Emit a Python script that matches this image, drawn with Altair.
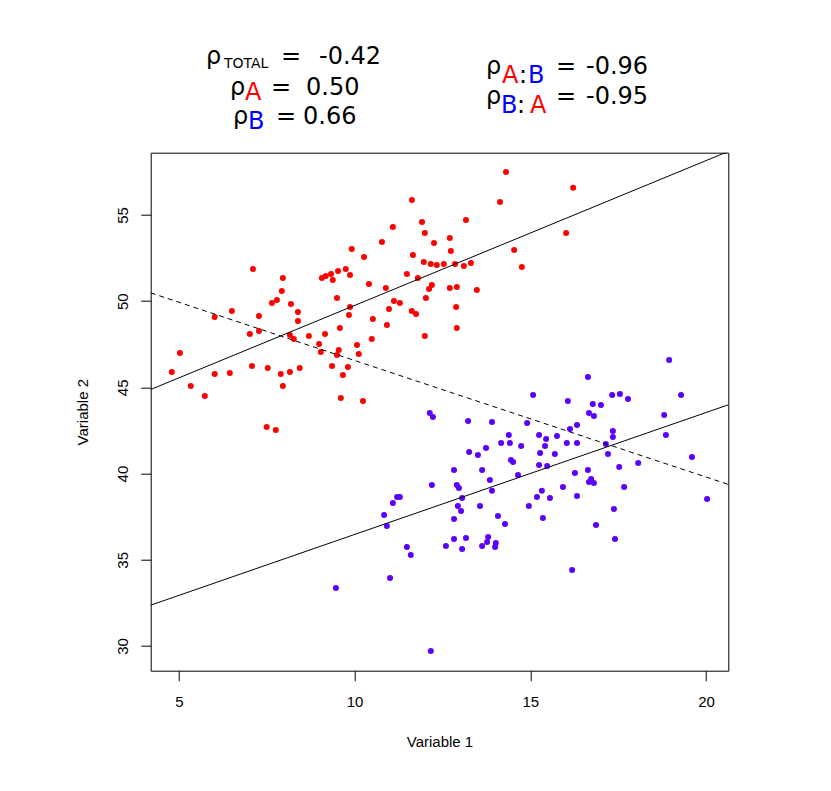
import altair as alt
import pandas as pd

# ---- data ----
red_x = [14.31, 16.22, 11.63, 14.14, 13.17, 11.92, 11.09, 12.00, 16.02, 10.78,
         12.26, 12.71, 9.92, 12.74, 14.54, 10.27, 11.66, 11.97, 12.17, 12.34,
         12.54, 12.86, 13.11, 13.31, 14.76, 9.75, 9.53, 9.33, 9.38, 9.87,
         11.49, 11.80, 10.41, 10.89, 12.20, 12.12, 12.71, 12.91, 13.48, 9.50,
         11.12, 12.03, 7.11, 7.96, 7.93, 7.79, 9.07, 9.18, 7.65, 8.19,
         6.51, 6.02, 7.28, 8.39, 8.39, 7.02, 7.28, 8.16, 8.27, 8.70,
         9.16, 9.87, 9.84, 9.58, 8.99, 9.04, 9.55, 9.50, 5.03, 4.80,
         6.02, 6.45, 7.08, 7.53, 7.90, 8.16, 8.44, 9.36, 9.67, 9.81,
         5.34, 5.74, 7.96, 9.61, 7.50, 7.76, 11.29, 10.98, 10.52, 11.63,
         11.75, 12.89, 12.91, 10.92, 12.00, 10.49, 10.07, 10.12, 10.24]
red_y = [57.49, 56.57, 55.87, 55.75, 54.71, 54.59, 54.30, 53.96, 53.96, 53.43,
         53.38, 53.67, 53.03, 52.91, 52.97, 52.56, 52.68, 52.27, 52.16, 52.10,
         52.16, 52.16, 52.04, 52.22, 51.98, 51.87, 51.75, 51.58, 51.23, 51.52,
         51.58, 51.35, 51.00, 50.77, 50.94, 50.71, 50.77, 50.82, 50.65, 50.19,
         50.01, 50.19, 51.87, 51.35, 50.59, 50.07, 51.35, 51.46, 49.90, 49.84,
         49.43, 49.08, 49.14, 49.37, 48.85, 48.10, 48.27, 48.04, 47.81, 47.98,
         48.10, 49.66, 49.20, 48.45, 47.52, 47.05, 47.17, 46.88, 46.99, 45.89,
         45.78, 45.84, 46.24, 46.13, 45.78, 45.89, 46.13, 46.24, 45.72, 46.18,
         45.08, 44.50, 45.08, 44.39, 42.70, 42.53, 49.90, 49.55, 48.97, 49.43,
         49.26, 49.66, 48.45, 48.62, 47.98, 47.81, 47.46, 46.94, 44.21]

pur_x = [15.08, 12.14, 12.23, 13.23, 13.91, 14.91, 14.39, 15.25, 15.45, 15.76,
         14.17, 14.42, 14.74, 13.74, 13.26, 13.51, 15.42, 15.28, 15.70, 14.45,
         14.51, 15.25, 15.48, 12.83, 13.63, 14.65, 13.85, 12.20, 12.91, 12.97,
         13.91, 15.33, 15.19, 15.56, 11.21, 11.29, 13.06, 18.95, 16.64, 16.07,
         17.33, 17.55, 17.78, 19.29, 16.78, 17.01, 16.67, 16.81, 18.81, 16.33,
         16.13, 17.35, 17.35, 18.86, 16.04, 16.33, 17.15, 17.21, 19.60, 18.07,
         17.53, 16.64, 16.27, 16.73, 16.67, 16.81, 15.93, 17.67, 16.33, 20.03,
         11.09, 12.94, 13.03, 13.57, 14.96, 10.84, 10.92, 12.83, 14.08, 14.28,
         15.36, 11.49, 11.60, 12.60, 12.83, 13.06, 13.17, 13.63, 13.80, 13.77,
         14.02, 14.00, 11.01, 12.17, 17.38, 16.87, 17.41, 16.19, 9.47]
pur_y = [44.56, 43.52, 43.28, 43.05, 42.99, 42.94, 42.24, 42.24, 42.01, 42.18,
         41.78, 41.78, 41.60, 41.49, 41.25, 41.08, 41.60, 41.19, 41.14, 40.79,
         40.67, 40.50, 40.44, 40.21, 40.21, 39.92, 39.63, 39.34, 39.34, 39.17,
         39.00, 39.00, 38.64, 38.58, 38.64, 38.64, 38.58, 46.59, 45.60, 44.21,
         44.56, 44.62, 44.33, 44.56, 44.04, 43.98, 43.52, 43.34, 43.40, 42.82,
         42.59, 42.47, 42.12, 42.24, 41.78, 41.78, 41.72, 41.14, 40.96, 40.62,
         40.38, 40.21, 40.03, 39.69, 39.51, 39.45, 39.22, 39.22, 38.70, 38.53,
         38.29, 38.12, 37.83, 38.12, 38.12, 37.60, 36.96, 37.37, 37.54, 37.08,
         37.42, 35.74, 35.28, 35.80, 36.21, 35.63, 36.27, 35.80, 36.32, 36.03,
         35.97, 35.74, 33.94, 29.71, 37.95, 37.02, 36.21, 34.41, 33.36]

# regression lines (intercept, slope)
line_names = ["A", "total", "B"]
line_intercepts = [41.35, 53.32, 29.40]
line_slopes = [0.84, -0.676, 0.707]
line_dashed = [False, True, False]

x_ticks = [5, 10, 15, 20]
y_ticks = [30, 35, 40, 45, 50, 55]

# ---- layout ----
X0, X1 = 4.2, 20.634
Y0, Y1 = 28.57, 58.61
PW, PH = 577.6, 518.0
OX, OY = 150.7, 152.7  # page position of plot origin

pts = pd.DataFrame({
    "x": red_x + pur_x,
    "y": red_y + pur_y,
    "g": ["A"] * len(red_x) + ["B"] * len(pur_x),
})

rows = []
for n, a, b, d in zip(line_names, line_intercepts, line_slopes, line_dashed):
    for xv in (X0, X1):
        rows.append({"name": n, "x": xv, "y": a + b * xv, "dashed": d})
lines = pd.DataFrame(rows)

xs = alt.Scale(domain=[X0, X1], nice=False, zero=False)
ys = alt.Scale(domain=[Y0, Y1], nice=False, zero=False)

AX_FONT = "Liberation Sans"
xaxis = alt.Axis(values=x_ticks, grid=False, domain=False, tickColor="black",
                 tickSize=10, tickWidth=1, labelFont=AX_FONT, labelFontSize=15,
                 labelColor="black", labelPadding=26.3, labelBaseline="alphabetic",
                 labelFlush=False, title="Variable 1", titleFont=AX_FONT,
                 titleFontSize=15, titleFontWeight="normal", titleColor="black",
                 titleX=PW / 2, titleY=76, titleBaseline="alphabetic",
                 titleAlign="center")
yaxis = alt.Axis(values=y_ticks, grid=False, domain=False, tickColor="black",
                 tickSize=10, tickWidth=1, labelFont=AX_FONT, labelFontSize=15,
                 labelColor="black", labelAngle=270, labelAlign="center",
                 labelBaseline="alphabetic", labelPadding=13.7, labelFlush=False,
                 title="Variable 2", titleFont=AX_FONT, titleFontSize=15,
                 titleFontWeight="normal", titleColor="black", titleAngle=270,
                 titleX=-63, titleY=PH / 2, titleBaseline="alphabetic",
                 titleAlign="center")

points = alt.Chart(pts).mark_circle(size=36, opacity=1).encode(
    x=alt.X("x:Q", scale=xs, axis=xaxis),
    y=alt.Y("y:Q", scale=ys, axis=yaxis),
    color=alt.Color("g:N", scale=alt.Scale(domain=["A", "B"],
                                           range=["#FF0000", "#5A00FF"]),
                    legend=None),
)

solid = alt.Chart(lines).transform_filter("!datum.dashed").mark_line(
    color="black", strokeWidth=1, clip=True).encode(
    x=alt.X("x:Q", scale=xs), y=alt.Y("y:Q", scale=ys), detail="name:N")
dashed = alt.Chart(lines).transform_filter("datum.dashed").mark_line(
    color="black", strokeWidth=1, strokeDash=[5, 4], clip=True).encode(
    x=alt.X("x:Q", scale=xs), y=alt.Y("y:Q", scale=ys), detail="name:N")

RED, BLUE, BLK = "#FF0000", "#0000FF", "black"
segments = [
    ("ρ", 206, 64, 24, BLK), ("TOTAL", 224, 68, 14, BLK), ("=", 281, 64, 24, BLK), ("-0.42", 319, 64, 24, BLK),
    ("ρ", 230, 95, 24, BLK), ("A", 245, 100, 24, RED), ("=", 271, 95, 24, BLK), ("0.50", 306, 95, 24, BLK),
    ("ρ", 233, 124, 24, BLK), ("B", 248, 129, 24, BLUE), ("=", 276, 124, 24, BLK), ("0.66", 303, 124, 24, BLK),
    ("ρ", 486, 74, 24, BLK), ("A", 502, 83, 24, RED), (":", 519, 83, 24, BLK), ("B", 528, 83, 24, BLUE),
    ("=", 556, 74, 24, BLK), ("-0.96", 586, 74, 24, BLK),
    ("ρ", 486, 104, 24, BLK), ("B", 501, 113, 24, BLUE), (":", 517, 113, 24, BLK), ("A", 530, 113, 24, RED),
    ("=", 556, 104, 24, BLK), ("-0.95", 586, 104, 24, BLK),
]
texts = []
for t, xp, yp, sz, col in segments:
    texts.append(
        alt.Chart(pd.DataFrame({"t": [t]})).mark_text(
            align="left", baseline="alphabetic", font="DejaVu Sans",
            fontSize=sz, color=col).encode(
            x=alt.value(xp - OX), y=alt.value(yp - OY), text="t:N")
    )

chart = alt.layer(points, solid, dashed, *texts).properties(
    width=PW, height=PH,
    padding={"left": OX - 8, "top": OY - 8, "right": 90, "bottom": 100},
    autosize=alt.AutoSizeParams(type="none"),
).configure_view(stroke="black", strokeWidth=1)

chart.save("out.html", embed_options={"renderer": "svg", "actions": False})
